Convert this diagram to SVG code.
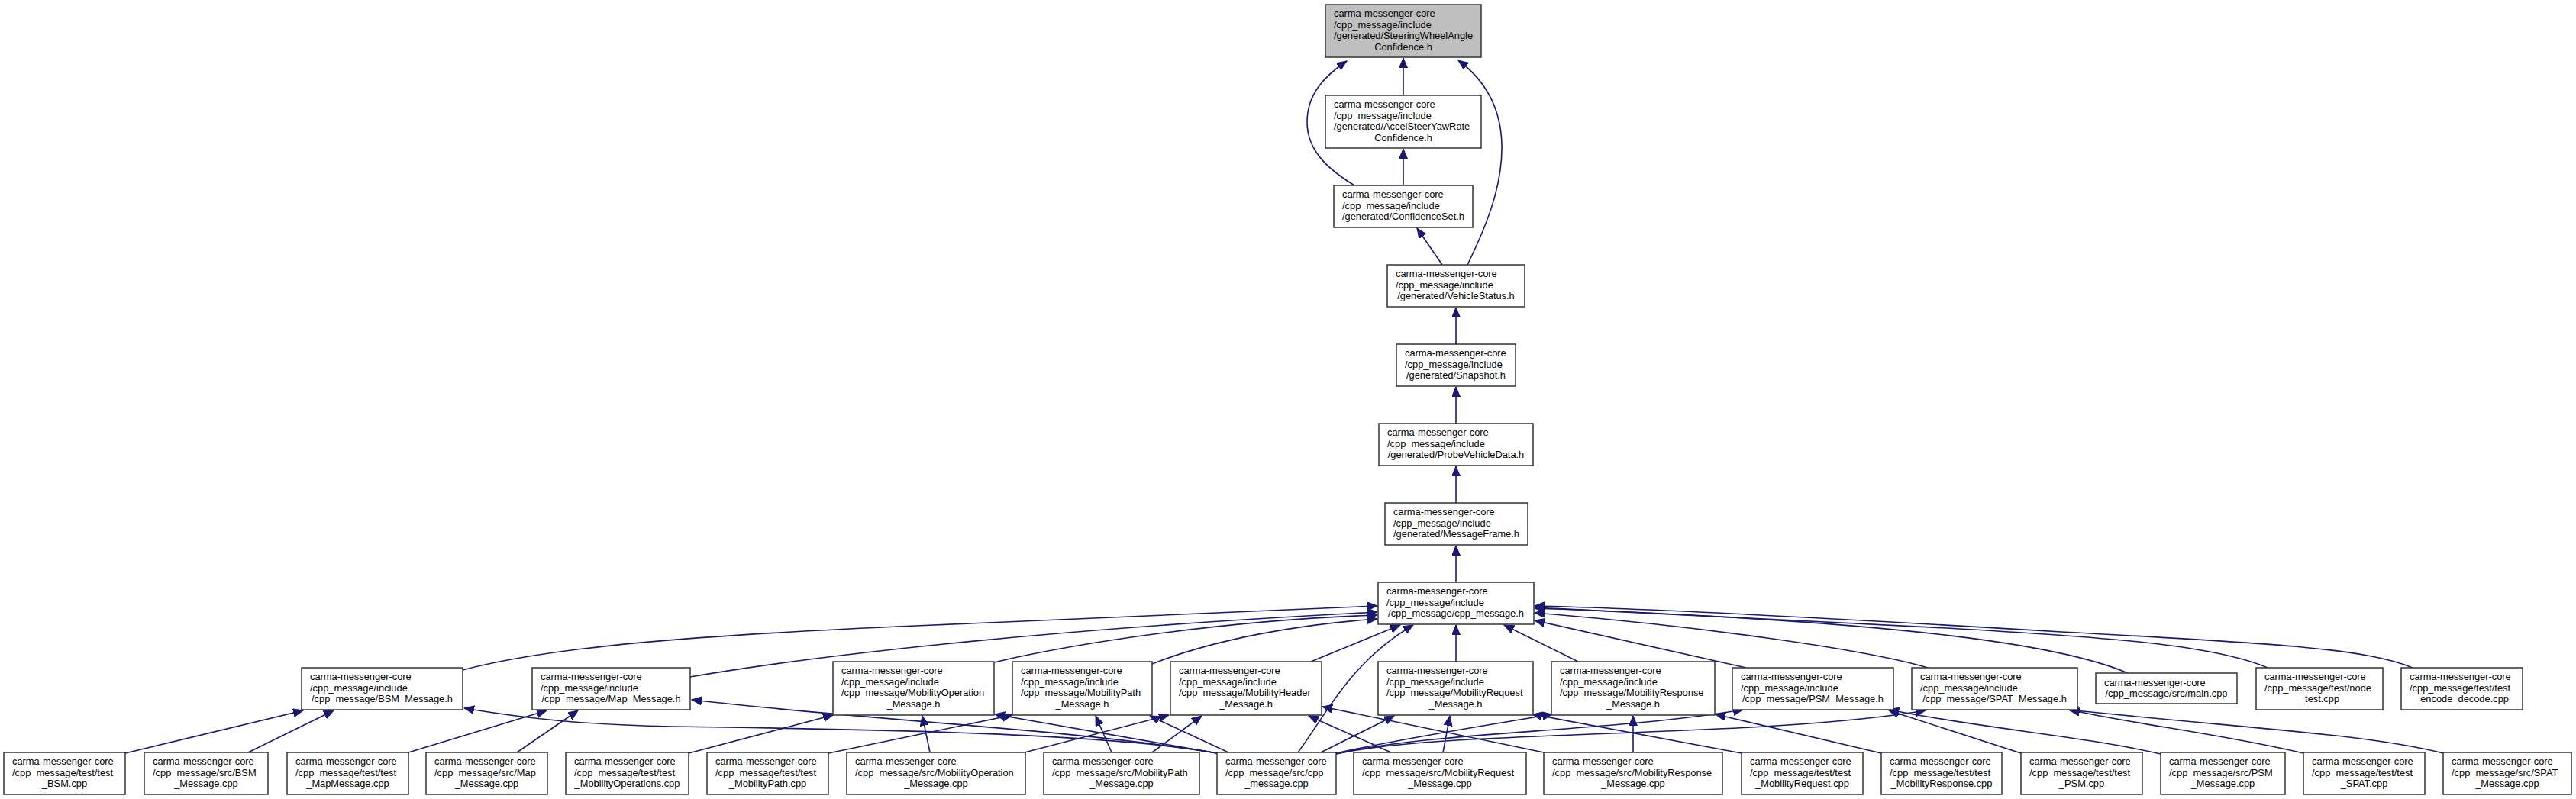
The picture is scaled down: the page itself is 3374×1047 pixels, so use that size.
<svg xmlns="http://www.w3.org/2000/svg" width="3374" height="1047" viewBox="0 0 3374 1047">
<style>
.n rect{fill:#ffffff;stroke:#333333;stroke-width:1.5}
.n.root rect{fill:#bfbfbf}
text{font-family:"Liberation Sans",Arial,Helvetica,sans-serif;font-size:12.85px;fill:#000000}
text.c{text-anchor:middle}
.e path{fill:none;stroke:#191970;stroke-width:1.6;marker-end:url(#ah)}
</style>
<defs>
<marker id="ah" markerUnits="userSpaceOnUse" markerWidth="14" markerHeight="12" refX="13" refY="5.5" orient="auto">
<path d="M0,0 L13,5.5 L0,11 Z" fill="#191970" stroke="#191970" stroke-width="1"/>
</marker>
</defs>
<rect x="0" y="0" width="3374" height="1047" fill="#ffffff"/>

<g id="edges" class="e">
<path d="M1838,125 L1838,76"/>
<path d="M1774,243 C1740,222 1712,198 1712,160 C1712,124 1734,100 1764,80"/>
<path d="M1922,347 C1950,290 1968,240 1967,190 C1966,140 1945,105 1910,79"/>
<path d="M1838,243 L1838,195"/>
<path d="M1889,347 L1856,299"/>
<path d="M1907,451 L1907,403"/>
<path d="M1907,555 L1907,507"/>
<path d="M1907,659 L1907,611"/>
<path d="M1907,763 L1907,715"/>

<path d="M606,878 C720,848 900,833 1200,820 C1450,810 1650,799 1804,794"/>
<path d="M904,887 C1050,862 1350,825 1804,802"/>
<path d="M1302,868 C1420,840 1620,812 1804,806"/>
<path d="M1509,870 C1590,838 1700,818 1804,811"/>
<path d="M1717,867 L1834,819"/>
<path d="M1700,986 C1738,935 1768,868 1851,819"/>
<path d="M1907,867 L1907,819"/>
<path d="M2067,867 L1970,819"/>
<path d="M2287,875 L2010,813"/>
<path d="M2525,875 C2440,850 2220,820 2010,803"/>
<path d="M2787,882 C2700,845 2500,815 2010,797"/>
<path d="M2970,875 C2900,845 2760,835 2550,823 C2300,810 2100,800 2010,796"/>
<path d="M3160,875 C3100,850 2980,843 2700,828 C2400,810 2150,797 2010,794"/>

<path d="M164,987 L397,931"/>
<path d="M325,986 L437,931"/>
<path d="M1594,987 C1450,960 1100,955 880,952 C760,950 680,940 608,928"/>
<path d="M535,986 L716,931"/>
<path d="M677,986 L757,931"/>
<path d="M1594,987 C1400,955 1150,945 906,917"/>
<path d="M902,987 L1091,937"/>
<path d="M1218,986 L1208,938"/>
<path d="M1594,987 L1303,936"/>
<path d="M1085,987 L1326,937"/>
<path d="M1456,986 L1435,938"/>
<path d="M1609,986 L1506,938"/>
<path d="M1342,986 L1531,937"/>
<path d="M1509,986 L1574,938"/>
<path d="M1822,986 L1714,938"/>
<path d="M2022,986 L1732,926"/>
<path d="M1730,986 L1826,938"/>
<path d="M1890,986 L1899,938"/>
<path d="M2281,987 L2007,936"/>
<path d="M1750,987 C1850,965 1950,950 2033,936"/>
<path d="M2139,986 L2139,938"/>
<path d="M2464,987 L2247,936"/>
<path d="M1750,988 C1880,958 2100,960 2283,930"/>
<path d="M2647,987 L2474,931"/>
<path d="M2830,988 C2730,965 2600,955 2474,930"/>
<path d="M1750,988 C1900,955 2300,968 2522,931"/>
<path d="M3017,987 C2900,960 2800,950 2711,930"/>
<path d="M3200,987 C3100,962 2950,955 2709,930"/>
</g>

<g id="n1" class="n root"><rect x="1736" y="6" width="204" height="69"/>
<text x="1747" y="22">carma-messenger-core</text><text x="1747" y="36.6">/cpp_message/include</text><text x="1747" y="51.2">/generated/SteeringWheelAngle</text><text class="c" x="1838" y="65.8">Confidence.h</text></g>
<g id="n2" class="n"><rect x="1736" y="125" width="204" height="69"/>
<text x="1747" y="141">carma-messenger-core</text><text x="1747" y="155.6">/cpp_message/include</text><text x="1747" y="170.2">/generated/AccelSteerYawRate</text><text class="c" x="1838" y="184.8">Confidence.h</text></g>
<g id="n3" class="n"><rect x="1747" y="243" width="182" height="55"/>
<text x="1758" y="259.2">carma-messenger-core</text><text x="1758" y="273.8">/cpp_message/include</text><text class="c" x="1838" y="288.4">/generated/ConfidenceSet.h</text></g>
<g id="n4" class="n"><rect x="1817" y="347" width="180" height="55"/>
<text x="1828" y="363.2">carma-messenger-core</text><text x="1828" y="377.8">/cpp_message/include</text><text class="c" x="1907" y="392.4">/generated/VehicleStatus.h</text></g>
<g id="n5" class="n"><rect x="1829" y="451" width="156" height="55"/>
<text x="1840" y="467.2">carma-messenger-core</text><text x="1840" y="481.8">/cpp_message/include</text><text class="c" x="1907" y="496.4">/generated/Snapshot.h</text></g>
<g id="n6" class="n"><rect x="1806" y="555" width="202" height="55"/>
<text x="1817" y="571.2">carma-messenger-core</text><text x="1817" y="585.8">/cpp_message/include</text><text class="c" x="1907" y="600.4">/generated/ProbeVehicleData.h</text></g>
<g id="n7" class="n"><rect x="1814" y="659" width="187" height="55"/>
<text x="1825" y="675.2">carma-messenger-core</text><text x="1825" y="689.8">/cpp_message/include</text><text class="c" x="1907.5" y="704.4">/generated/MessageFrame.h</text></g>
<g id="n8" class="n"><rect x="1805" y="763" width="204" height="55"/>
<text x="1816" y="779.2">carma-messenger-core</text><text x="1816" y="793.8">/cpp_message/include</text><text class="c" x="1907" y="808.4">/cpp_message/cpp_message.h</text></g>

<g id="n9" class="n"><rect x="395" y="875" width="211" height="55"/>
<text x="406" y="891.2">carma-messenger-core</text><text x="406" y="905.8">/cpp_message/include</text><text class="c" x="500.5" y="920.4">/cpp_message/BSM_Message.h</text></g>
<g id="n10" class="n"><rect x="697" y="875" width="207" height="55"/>
<text x="708" y="891.2">carma-messenger-core</text><text x="708" y="905.8">/cpp_message/include</text><text class="c" x="800.5" y="920.4">/cpp_message/Map_Message.h</text></g>
<g id="n11" class="n"><rect x="1091" y="867" width="211" height="70"/>
<text x="1102" y="883">carma-messenger-core</text><text x="1102" y="897.6">/cpp_message/include</text><text x="1102" y="912.2">/cpp_message/MobilityOperation</text><text class="c" x="1196.5" y="926.8">_Message.h</text></g>
<g id="n12" class="n"><rect x="1326" y="867" width="183" height="70"/>
<text x="1337" y="883">carma-messenger-core</text><text x="1337" y="897.6">/cpp_message/include</text><text x="1337" y="912.2">/cpp_message/MobilityPath</text><text class="c" x="1417.5" y="926.8">_Message.h</text></g>
<g id="n13" class="n"><rect x="1533" y="867" width="198" height="70"/>
<text x="1544" y="883">carma-messenger-core</text><text x="1544" y="897.6">/cpp_message/include</text><text x="1544" y="912.2">/cpp_message/MobilityHeader</text><text class="c" x="1632" y="926.8">_Message.h</text></g>
<g id="n14" class="n"><rect x="1805" y="867" width="203" height="70"/>
<text x="1816" y="883">carma-messenger-core</text><text x="1816" y="897.6">/cpp_message/include</text><text x="1816" y="912.2">/cpp_message/MobilityRequest</text><text class="c" x="1906.5" y="926.8">_Message.h</text></g>
<g id="n15" class="n"><rect x="2032" y="867" width="214" height="70"/>
<text x="2043" y="883">carma-messenger-core</text><text x="2043" y="897.6">/cpp_message/include</text><text x="2043" y="912.2">/cpp_message/MobilityResponse</text><text class="c" x="2139" y="926.8">_Message.h</text></g>
<g id="n16" class="n"><rect x="2269" y="875" width="211" height="55"/>
<text x="2280" y="891.2">carma-messenger-core</text><text x="2280" y="905.8">/cpp_message/include</text><text class="c" x="2374.5" y="920.4">/cpp_message/PSM_Message.h</text></g>
<g id="n17" class="n"><rect x="2504" y="875" width="217" height="55"/>
<text x="2515" y="891.2">carma-messenger-core</text><text x="2515" y="905.8">/cpp_message/include</text><text class="c" x="2612.5" y="920.4">/cpp_message/SPAT_Message.h</text></g>
<g id="n18" class="n"><rect x="2745" y="882" width="185" height="40"/>
<text x="2756" y="898.6">carma-messenger-core</text><text class="c" x="2837.5" y="913">/cpp_message/src/main.cpp</text></g>
<g id="n19" class="n"><rect x="2955" y="875" width="166" height="55"/>
<text x="2966" y="891.2">carma-messenger-core</text><text x="2966" y="905.8">/cpp_message/test/node</text><text class="c" x="3038" y="920.4">_test.cpp</text></g>
<g id="n20" class="n"><rect x="3145" y="875" width="159" height="55"/>
<text x="3156" y="891.2">carma-messenger-core</text><text x="3156" y="905.8">/cpp_message/test/test</text><text class="c" x="3224.5" y="920.4">_encode_decode.cpp</text></g>

<g id="n21" class="n"><rect x="5" y="986" width="159" height="55"/>
<text x="16" y="1002.2">carma-messenger-core</text><text x="16" y="1016.8">/cpp_message/test/test</text><text class="c" x="84.5" y="1031.4">_BSM.cpp</text></g>
<g id="n22" class="n"><rect x="189" y="986" width="162" height="55"/>
<text x="200" y="1002.2">carma-messenger-core</text><text x="200" y="1016.8">/cpp_message/src/BSM</text><text class="c" x="270" y="1031.4">_Message.cpp</text></g>
<g id="n23" class="n"><rect x="376" y="986" width="159" height="55"/>
<text x="387" y="1002.2">carma-messenger-core</text><text x="387" y="1016.8">/cpp_message/test/test</text><text class="c" x="455.5" y="1031.4">_MapMessage.cpp</text></g>
<g id="n24" class="n"><rect x="558" y="986" width="159" height="55"/>
<text x="569" y="1002.2">carma-messenger-core</text><text x="569" y="1016.8">/cpp_message/src/Map</text><text class="c" x="637.5" y="1031.4">_Message.cpp</text></g>
<g id="n25" class="n"><rect x="741" y="986" width="161" height="55"/>
<text x="752" y="1002.2">carma-messenger-core</text><text x="752" y="1016.8">/cpp_message/test/test</text><text class="c" x="821.5" y="1031.4">_MobilityOperations.cpp</text></g>
<g id="n26" class="n"><rect x="926" y="986" width="159" height="55"/>
<text x="937" y="1002.2">carma-messenger-core</text><text x="937" y="1016.8">/cpp_message/test/test</text><text class="c" x="1005.5" y="1031.4">_MobilityPath.cpp</text></g>
<g id="n27" class="n"><rect x="1109" y="986" width="234" height="55"/>
<text x="1120" y="1002.2">carma-messenger-core</text><text x="1120" y="1016.8">/cpp_message/src/MobilityOperation</text><text class="c" x="1226" y="1031.4">_Message.cpp</text></g>
<g id="n28" class="n"><rect x="1367" y="986" width="204" height="55"/>
<text x="1378" y="1002.2">carma-messenger-core</text><text x="1378" y="1016.8">/cpp_message/src/MobilityPath</text><text class="c" x="1469" y="1031.4">_Message.cpp</text></g>
<g id="n29" class="n"><rect x="1594" y="986" width="156" height="55"/>
<text x="1605" y="1002.2">carma-messenger-core</text><text x="1605" y="1016.8">/cpp_message/src/cpp</text><text class="c" x="1672" y="1031.4">_message.cpp</text></g>
<g id="n30" class="n"><rect x="1773" y="986" width="226" height="55"/>
<text x="1784" y="1002.2">carma-messenger-core</text><text x="1784" y="1016.8">/cpp_message/src/MobilityRequest</text><text class="c" x="1886" y="1031.4">_Message.cpp</text></g>
<g id="n31" class="n"><rect x="2022" y="986" width="234" height="55"/>
<text x="2033" y="1002.2">carma-messenger-core</text><text x="2033" y="1016.8">/cpp_message/src/MobilityResponse</text><text class="c" x="2139" y="1031.4">_Message.cpp</text></g>
<g id="n32" class="n"><rect x="2281" y="986" width="159" height="55"/>
<text x="2292" y="1002.2">carma-messenger-core</text><text x="2292" y="1016.8">/cpp_message/test/test</text><text class="c" x="2360.5" y="1031.4">_MobilityRequest.cpp</text></g>
<g id="n33" class="n"><rect x="2464" y="986" width="158" height="55"/>
<text x="2475" y="1002.2">carma-messenger-core</text><text x="2475" y="1016.8">/cpp_message/test/test</text><text class="c" x="2543" y="1031.4">_MobilityResponse.cpp</text></g>
<g id="n34" class="n"><rect x="2647" y="986" width="159" height="55"/>
<text x="2658" y="1002.2">carma-messenger-core</text><text x="2658" y="1016.8">/cpp_message/test/test</text><text class="c" x="2726.5" y="1031.4">_PSM.cpp</text></g>
<g id="n35" class="n"><rect x="2830" y="986" width="163" height="55"/>
<text x="2841" y="1002.2">carma-messenger-core</text><text x="2841" y="1016.8">/cpp_message/src/PSM</text><text class="c" x="2911.5" y="1031.4">_Message.cpp</text></g>
<g id="n36" class="n"><rect x="3017" y="986" width="159" height="55"/>
<text x="3028" y="1002.2">carma-messenger-core</text><text x="3028" y="1016.8">/cpp_message/test/test</text><text class="c" x="3096.5" y="1031.4">_SPAT.cpp</text></g>
<g id="n37" class="n"><rect x="3200" y="986" width="168" height="55"/>
<text x="3211" y="1002.2">carma-messenger-core</text><text x="3211" y="1016.8">/cpp_message/src/SPAT</text><text class="c" x="3284" y="1031.4">_Message.cpp</text></g>
</svg>
